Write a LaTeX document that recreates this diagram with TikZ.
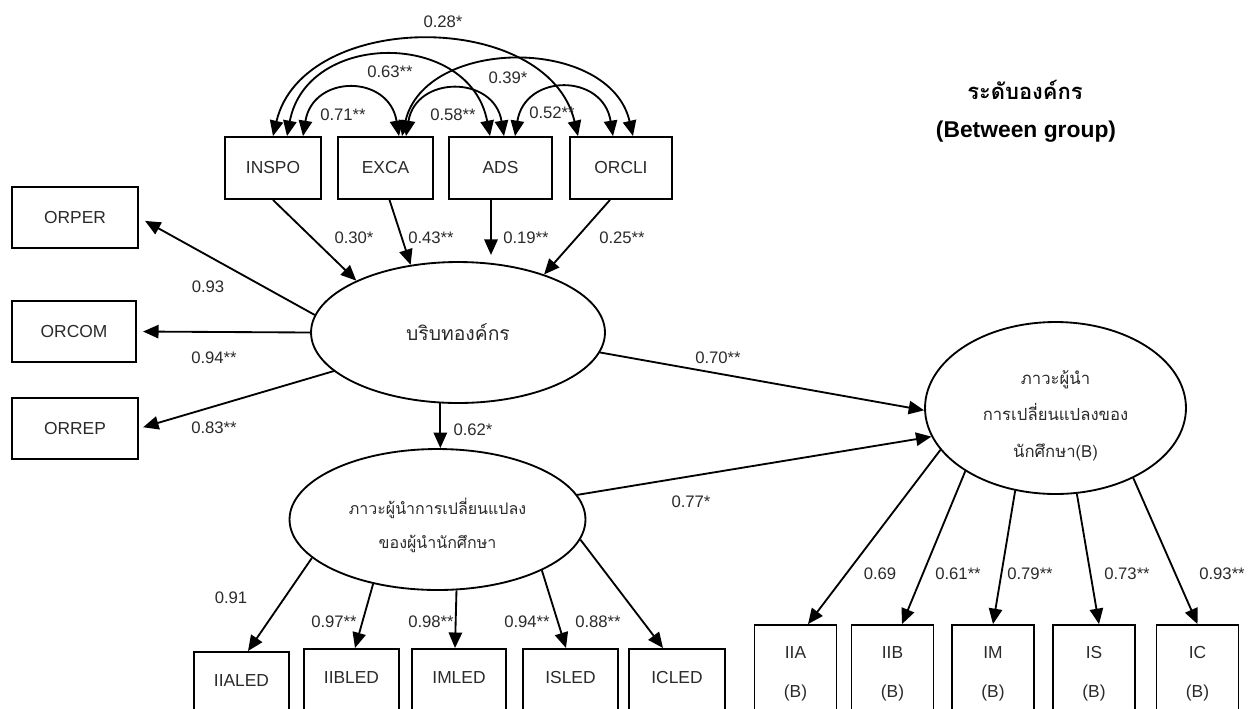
\documentclass[tikz,border=0pt]{standalone}
\usepackage{fontspec}
\setmainfont{Liberation Sans}
\newfontfamily\thaifont[Script=Thai]{Loma}
\usetikzlibrary{arrows.meta,shapes.geometric,calc}
\definecolor{ink}{HTML}{2A2A2A}

\begin{document}
\begin{tikzpicture}[x=0.02cm,y=-0.02cm,
  line width=1.05pt,
  >={Triangle[length=8.8pt,width=7.6pt]},
  arr/.style={->},
  cov/.style={<->},
  box/.style={draw, rectangle, inner sep=0pt, text=ink, font=\fontsize{9.9}{12}\selectfont},
  cutbox/.style={box, anchor=north, inner ysep=0pt, text height=0.69cm, text depth=0.9cm},
  obsB/.style={box, align=center, minimum width=1.64cm, minimum height=1.94cm, font=\fontsize{9.9}{22}\selectfont},
  latent/.style={draw, ellipse, inner sep=0pt, text=ink, align=center},
  lbl/.style={text=ink, font=\fontsize{9.5}{11}\selectfont, inner sep=0pt},
]
\useasboundingbox (0,0) rectangle (1248,708);
\clip (0,0) rectangle (1248,708);

% exogenous indicators (top row)
\node[box, minimum width=1.92cm, minimum height=1.24cm] (INSPO) at (273,168) {INSPO};
\node[box, minimum width=1.90cm, minimum height=1.24cm] (EXCA) at (385.5,168) {EXCA};
\node[box, minimum width=2.06cm, minimum height=1.24cm] (ADS) at (500.5,168) {ADS};
\node[box, minimum width=2.04cm, minimum height=1.24cm] (ORCLI) at (621,168) {ORCLI};

% indicators of the organisational context
\node[box, minimum width=2.52cm, minimum height=1.22cm] (ORPER) at (75,217.5) {ORPER};
\node[box, minimum width=2.48cm, minimum height=1.22cm] (ORCOM) at (74,331.5) {ORCOM};
\node[box, minimum width=2.52cm, minimum height=1.22cm] (ORREP) at (75,428.5) {ORREP};

% indicators of student-leader transformational leadership
\node[cutbox, minimum width=1.90cm] (IIALED) at (241.5,651) {IIALED};
\node[cutbox, minimum width=1.90cm] (IIBLED) at (351.5,648) {IIBLED};
\node[cutbox, minimum width=1.88cm] (IMLED) at (459,648) {IMLED};
\node[cutbox, minimum width=1.90cm] (ISLED) at (570.5,648) {ISLED};
\node[cutbox, minimum width=1.92cm] (ICLED) at (677,648) {ICLED};

% indicators of student transformational leadership (B)
\node[obsB] (IIA) at (795.5,673.5) {IIA\\(B)};
\node[obsB] (IIB) at (892.5,673.5) {IIB\\(B)};
\node[obsB] (IM) at (993,673.5) {IM\\(B)};
\node[obsB] (IS) at (1094,673.5) {IS\\(B)};
\node[obsB] (IC) at (1197.5,673.5) {IC\\(B)};

% latent variables (a strut on the first line drops the text a little)
\node[latent, minimum width=5.88cm, minimum height=2.82cm,
  font=\thaifont\fontsize{11}{13}\selectfont] (e1) at (458,332.5) {บริบทองค์กร};
\node[latent, minimum width=5.92cm, minimum height=2.82cm,
  font=\thaifont\fontsize{9.1}{19.3}\selectfont] (e2) at (437.5,519.5)
  {\rule{0pt}{16pt}ภาวะผู้นำการเปลี่ยนแปลง\\ของผู้นำนักศึกษา};
\node[latent, minimum width=5.22cm, minimum height=3.44cm,
  font=\thaifont\fontsize{9.5}{20.7}\selectfont] (e3) at (1055.5,408)
  {\rule{0pt}{16.5pt}ภาวะผู้นำ\\การเปลี่ยนแปลงของ\\นักศึกษา(B)};

% heading
\node[font=\thaifont\bfseries\fontsize{12.5}{14}\selectfont] (title) at (1025,90) {ระดับองค์กร};
\node[font=\bfseries\fontsize{13}{15}\selectfont] (group) at (1026,132) {(Between group)};

% correlations among the exogenous indicators
\draw[cov] ($(INSPO.north)+(30,0)$) .. controls +(10,-62) and +(-10,-62) .. ($(EXCA.north)+(13.5,0)$);
\draw[cov] ($(INSPO.north)+(14,0)$) .. controls +(20,-106) and +(-20,-106) .. ($(ADS.north)+(-10.5,0)$);
\draw[cov] (INSPO.north) .. controls +(30,-127) and +(-30,-127) .. ($(ORCLI.north)+(-43,0)$);
\draw[cov] ($(EXCA.north)+(20.5,0)$) .. controls +(10,-61) and +(-10,-61) .. ($(ADS.north)+(3.5,0)$);
\draw[cov] ($(EXCA.north)+(16.5,0)$) .. controls +(23,-100) and +(-23,-100) .. ($(ORCLI.north)+(12,0)$);
\draw[cov] ($(ADS.north)+(14.5,0)$) .. controls +(10,-63) and +(-10,-63) .. ($(ORCLI.north)+(-8,0)$);

\node[lbl] (c1) at (443,22) {0.28*};
\node[lbl] (c2) at (390,72) {0.63**};
\node[lbl] (c3) at (508,78) {0.39*};
\node[lbl] (c4) at (343,115) {0.71**};
\node[lbl] (c5) at (453,115) {0.58**};
\node[lbl] (c6) at (552,113) {0.52**};

% paths into the organisational context
\draw[arr] (INSPO.south) -- (e1.153);
\draw[arr] ($(EXCA.south)+(4,0)$) -- (e1.125);
\draw[arr, shorten >=3.5pt] ($(ADS.south)+(-9.5,0)$) coordinate (adsout) -- (adsout |- e1.north);
\draw[arr] ($(ORCLI.south)+(-11,0)$) -- (e1.34);
\node[lbl] (p1) at (354,238) {0.30*};
\node[lbl] (p2) at (431,238) {0.43**};
\node[lbl] (p3) at (526,238) {0.19**};
\node[lbl] (p4) at (622,238) {0.25**};

% loadings of the organisational context
\draw[arr, shorten >=4pt] (e1.173) -- (ORPER.east);
\draw[arr, shorten >=3.5pt] (e1.180) -- (ORCOM.east);
\draw[arr, shorten >=2.5pt] ([shift={(2,0)}]e1.197) -- (ORREP.east);
\node[lbl] (m1) at (208,287) {0.93};
\node[lbl] (m2) at (214,358) {0.94**};
\node[lbl] (m3) at (214,428) {0.83**};

% structural paths
\draw[arr] (e1.256) -- (e1.256 |- e2.north);
\node[lbl] (s1) at (473,430) {0.62*};
\draw[arr] (e1.-8) -- (e3.181);
\node[lbl] (s2) at (718,358) {0.70**};
\draw[arr] (e2.10) -- (e3.193);
\node[lbl] (s3) at (691,502) {0.77*};

% loadings of student-leader transformational leadership
\draw[arr] (e2.197) -- ($(IIALED.north)+(6.5,0)$);
\draw[arr] (e2.225) -- ($(IIBLED.north)+(3.5,0)$);
\draw[arr] (e2.285) -- ($(IMLED.north)+(-4,0)$);
\draw[arr] (e2.334) -- ($(ISLED.north)+(-4.5,0)$);
\draw[arr] (e2.352) -- ($(ICLED.north)+(-14,0)$);
\node[lbl] (k1) at (231,598) {0.91};
\node[lbl] (k2) at (334,622) {0.97**};
\node[lbl] (k3) at (431,622) {0.98**};
\node[lbl] (k4) at (527,622) {0.94**};
\node[lbl] (k5) at (598,622) {0.88**};

% loadings of student transformational leadership (B)
\draw[arr] (e3.200) -- ($(IIA.north)+(12.5,0)$);
\draw[arr] (e3.215) -- ($(IIB.north)+(9.5,0)$);
\draw[arr] (e3.244) -- (IM.north);
\draw[arr] (e3.284) -- ($(IS.north)+(5,0)$);
\draw[arr] (e3.318) -- (IC.north);
\node[lbl] (b1) at (880,574) {0.69};
\node[lbl] (b2) at (958,574) {0.61**};
\node[lbl] (b3) at (1030,574) {0.79**};
\node[lbl] (b4) at (1127,574) {0.73**};
\node[lbl] (b5) at (1222,574) {0.93**};
\end{tikzpicture}
\end{document}
